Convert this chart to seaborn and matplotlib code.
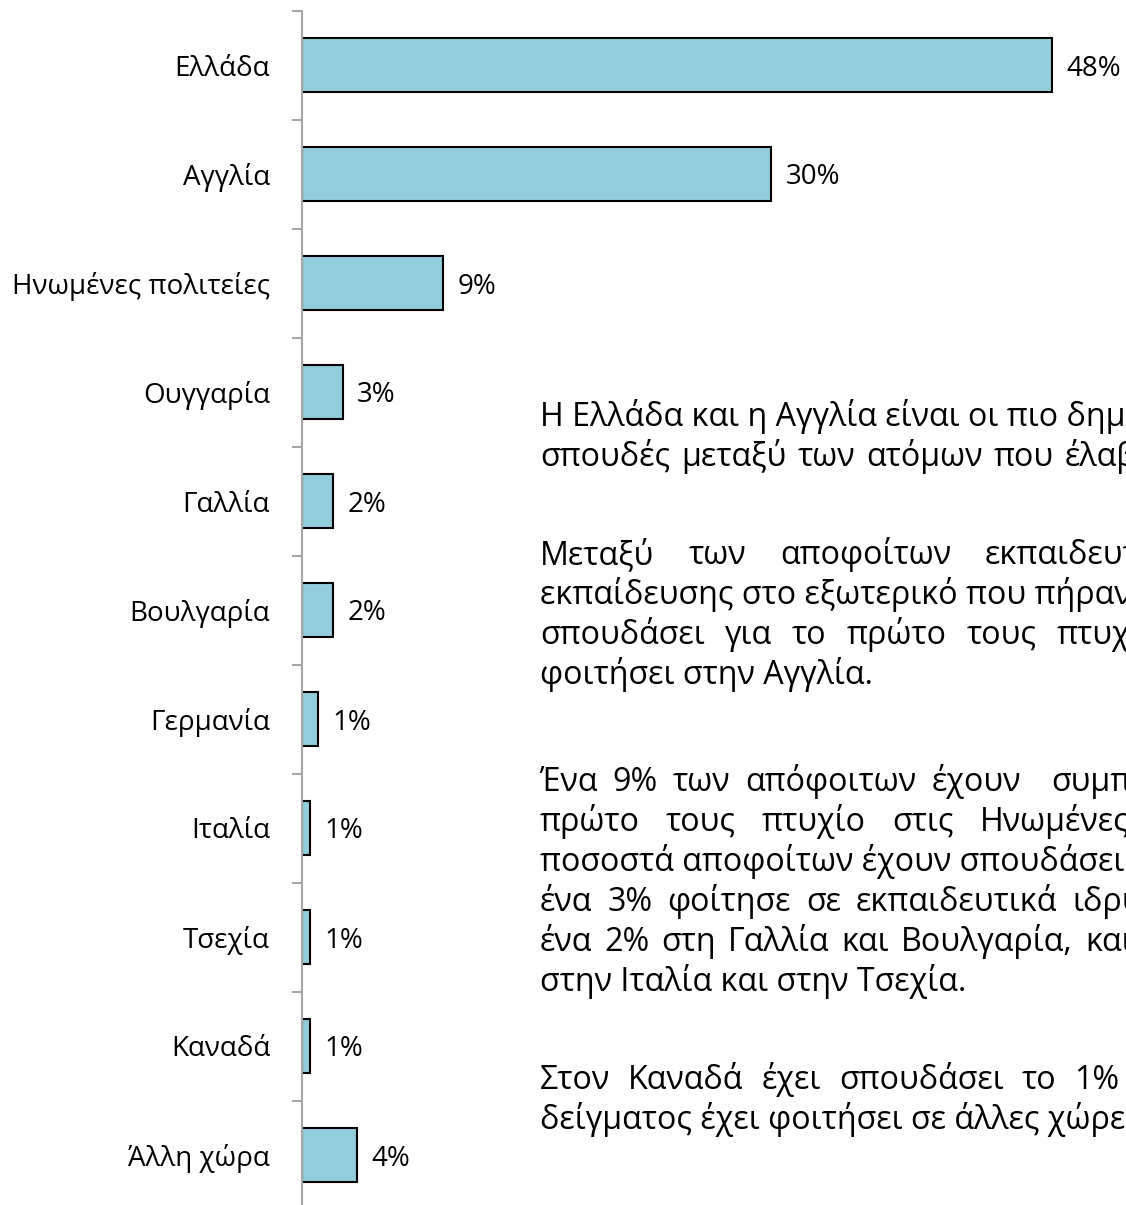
import matplotlib
matplotlib.use('Agg')
import matplotlib.pyplot as plt
import numpy as np
import pandas as pd
import seaborn as sns

# Data (bar lengths in %, printed labels are rounded)
countries = ['Ελλάδα', 'Αγγλία', 'Ηνωμένες πολιτείες', 'Ουγγαρία', 'Γαλλία', 'Βουλγαρία',
             'Γερμανία', 'Ιταλία', 'Τσεχία', 'Καναδά', 'Άλλη χώρα']
shares = [48, 30, 9, 2.6, 2.0, 2.0, 1.0, 0.5, 0.5, 0.5, 3.5]
share_labels = ['48%', '30%', '9%', '3%', '2%', '2%', '1%', '1%', '1%', '1%', '4%']

# Commentary text (justified in the original, cut at the right edge)
text_lines = [
    'Η Ελλάδα και η Αγγλία είναι οι πιο δημοφιλείς χώρες για',
    'σπουδές μεταξύ των ατόμων που έλαβαν μέρος στην έρευνα.',
    'Μεταξύ των αποφοίτων εκπαιδευτικών ιδρυμάτων τριτοβάθμιας',
    'εκπαίδευσης στο εξωτερικό που πήραν μέρος στην έρευνα, το 30% έχει',
    'σπουδάσει για το πρώτο τους πτυχίο ή έχει',
    'φοιτήσει στην Αγγλία.',
    'Ένα 9% των απόφοιτων έχουν  συμπληρώσει το',
    'πρώτο τους πτυχίο στις Ηνωμένες Πολιτείες. Μικρότερα',
    'ποσοστά αποφοίτων έχουν σπουδάσει σε άλλες χώρες:',
    'ένα 3% φοίτησε σε εκπαιδευτικά ιδρύματα της Ουγγαρίας,',
    'ένα 2% στη Γαλλία και Βουλγαρία, και ένα 1% στη Γερμανία,',
    'στην Ιταλία και στην Τσεχία.',
    'Στον Καναδά έχει σπουδάσει το 1% του',
    'δείγματος έχει φοιτήσει σε άλλες χώρες.',
]
line_baselines = [426, 466, 564, 604, 644, 684, 791, 831, 871, 911, 951, 991, 1089, 1129]
line_extra_gap = [0, 3, 26, 0, 12, 0, 7, 18, 0, 7, 4, 0, 10, 0]

sns.set_theme(style='white')
plt.rcParams['font.family'] = ['Open Sans', 'DejaVu Sans']
plt.rcParams['text.color'] = 'black'

W, H = 1126, 1205
FS = 20
FS_TEXT = 23.2
fig = plt.figure(figsize=(W / 100, H / 100), dpi=100)
ax = fig.add_axes([302 / W, 1 - 1209.5 / H, (1114.5 - 302) / W, 1199 / H])

df = pd.DataFrame({'country': countries, 'share': shares})
sns.barplot(data=df, x='share', y='country', order=countries, color='#92CDDC',
            saturation=1, width=0.5, edgecolor='black', linewidth=1.5, ax=ax)

ax.set_xlim(0, 52)
ax.set_ylim(10.5, -0.5)
ax.set_xlabel('')
ax.set_ylabel('')
ax.set_xticks([])
for side in ['top', 'right', 'bottom']:
    ax.spines[side].set_visible(False)
ax.spines['left'].set_color('#a6a6a6')
ax.spines['left'].set_linewidth(1.5)
ax.set_yticks(np.arange(-0.5, 11, 1), minor=True)
ax.tick_params(axis='y', which='major', length=0, pad=23, labelsize=FS, labelcolor='black')
ax.tick_params(axis='y', which='minor', left=True, length=7, width=1.5,
               color='#a6a6a6', direction='out')

for i, (v, lab) in enumerate(zip(shares, share_labels)):
    ax.annotate(lab, (v, i), xytext=(10.5, 0), textcoords='offset points',
                va='center_baseline', ha='left', fontsize=FS, color='black')

# Commentary: words placed one by one so that justified lines keep their wide gaps
renderer = fig.canvas.get_renderer()
space = 8
for line, yb, extra in zip(text_lines, line_baselines, line_extra_gap):
    if extra == 0:
        fig.text(540 / W, 1 - yb / H, line, fontsize=FS_TEXT, va='baseline', ha='left')
        continue
    x = 540
    for word in line.split(' '):
        t = fig.text(x / W, 1 - yb / H, word, fontsize=FS_TEXT, va='baseline', ha='left')
        bb = t.get_window_extent(renderer)
        x = (bb.x1 if word else x) + space + extra

fig.savefig('out.png', dpi=100)
